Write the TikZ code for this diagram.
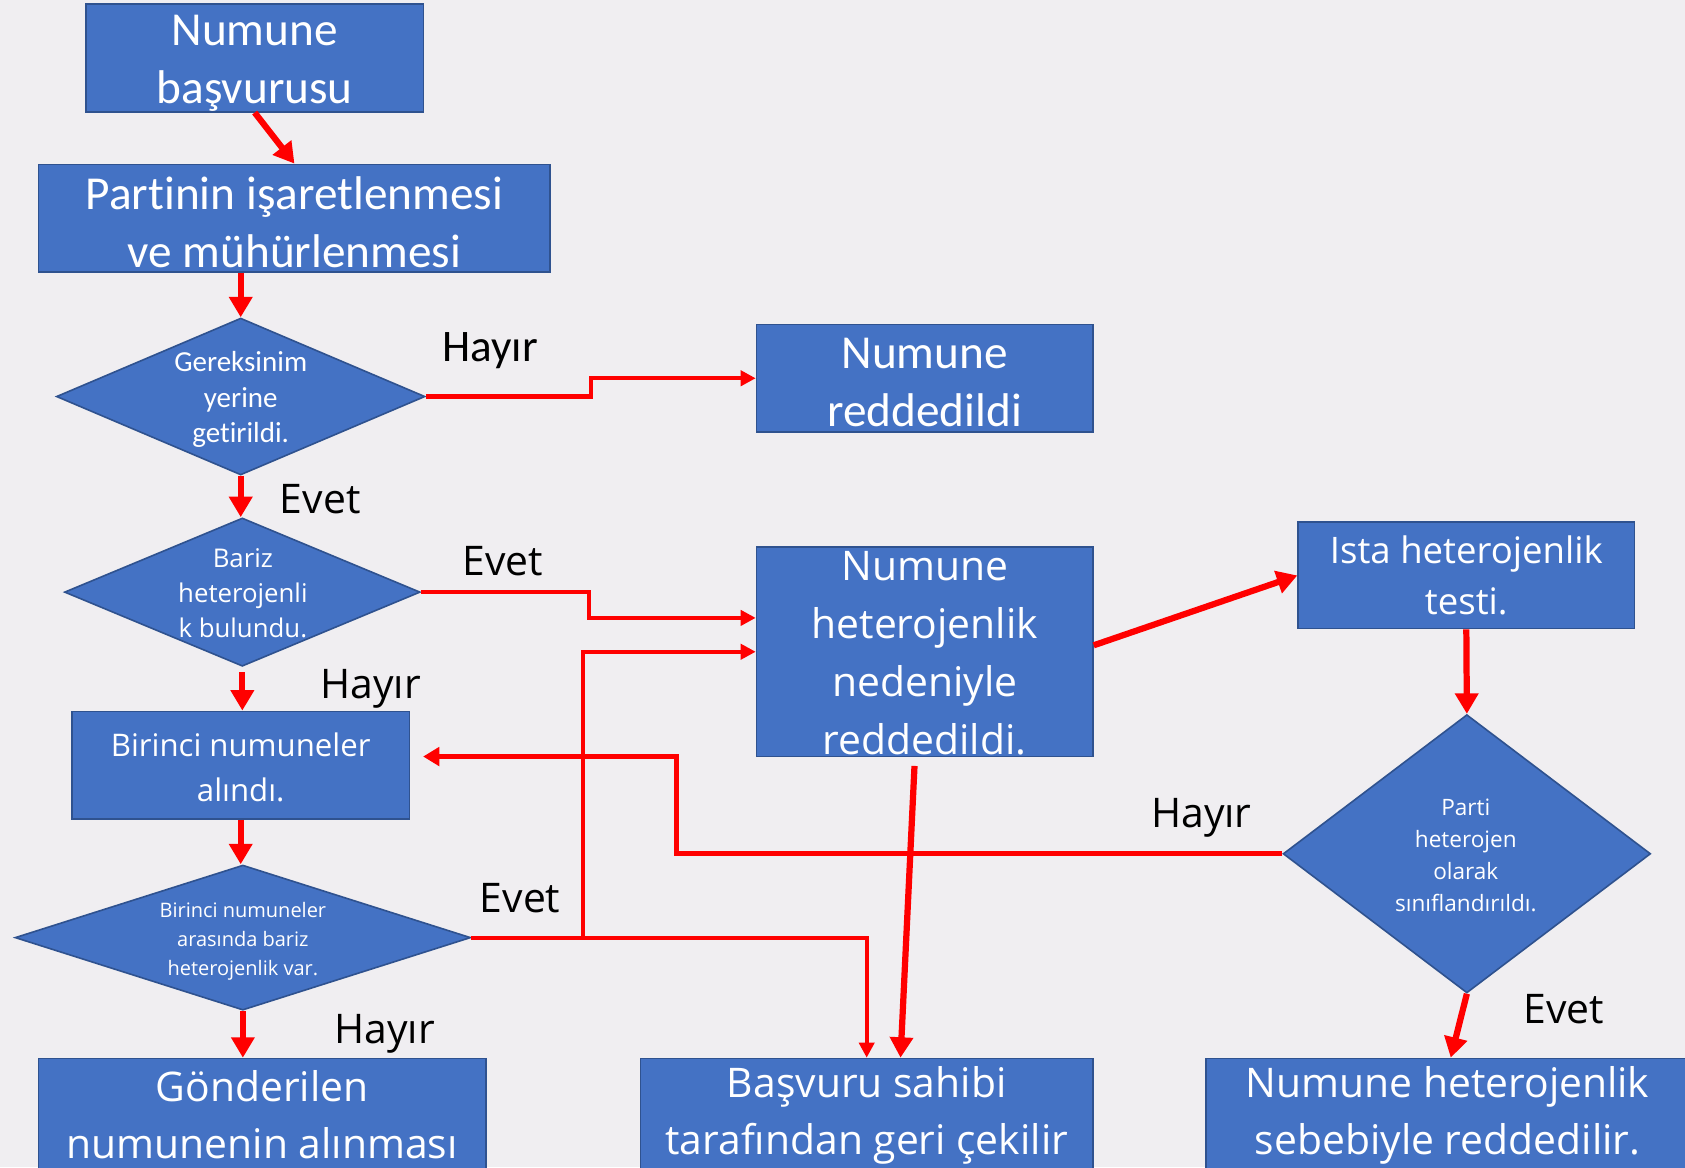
\documentclass[tikz,border=0pt]{standalone}
\usepackage{fontspec}
\setmainfont[Ligatures=NoCommon]{Open Sans}
\newfontfamily\carl[RawFeature={-liga;-clig;-calt;-dlig}]{Carlito}
\usetikzlibrary{shapes.geometric,arrows.meta,calc}
\definecolor{bgcol}{HTML}{F0EEF1}
\definecolor{boxblue}{HTML}{4472C4}
\definecolor{boxedge}{HTML}{2F528F}
\definecolor{arrred}{HTML}{FF0000}
\tikzset{
  box/.style={draw=boxedge, fill=boxblue, line width=0.75pt, inner sep=0pt, text=white, align=center},
  dia/.style={diamond, draw=boxedge, fill=boxblue, line width=0.75pt, inner sep=0pt},
  intext/.style={text=white, align=center, inner sep=0pt},
  lbl/.style={text=black, inner sep=0pt, font=\fontsize{19}{23}\selectfont},
  bigarrow/.style={draw=arrred, line width=2.9pt, -{Triangle[width=10.5pt,length=9.5pt]}},
  smallarrow/.style={draw=arrred, line width=1.9pt, -{Triangle[width=7pt,length=7pt]}},
  midarrow/.style={draw=arrred, line width=2.3pt, -{Triangle[width=8.5pt,length=7.5pt]}}
}
\begin{document}
\begin{tikzpicture}[x=0.5pt,y=-0.5pt]
\fill[bgcol] (0,0) rectangle (1568,1086);
\useasboundingbox (0,0) rectangle (1568,1086);

% boxes
\node[box, minimum width=157pt, minimum height=50pt] (b1) at (237,54) {};
\node[intext, font=\carl\fontsize{22}{27}\selectfont] (b1t) at (237,58.5) {Numune\\başvurusu};
\node[box, minimum width=238pt, minimum height=50pt] (b2) at (274,203) {};
\node[intext, font=\carl\fontsize{22}{27}\selectfont] (b2t) at (274,207) {Part\kern0pt inin işaretlenmesi\\ve mühürlenmesi};
\node[box, minimum width=156.5pt, minimum height=50pt] (b3) at (860.5,352) {};
\node[intext, font=\carl\fontsize{22}{27}\selectfont] (b3t) at (860.5,356) {Numune\\reddedildi};
\node[box, minimum width=157pt, minimum height=50pt] (b4) at (224,712) {};
\node[intext, font=\fontsize{14.5}{21}\selectfont] (b4t) at (224,714) {Birinci numuneler\\alındı.};
\node[box, minimum width=208pt, minimum height=52.5pt, font=\fontsize{19}{26.5}\selectfont] (b5) at (244,1037.5) {Gönderilen\\numunenin alınması};
\node[box, minimum width=156.5pt, minimum height=97.5pt] (b6) at (860.5,606.5) {};
\node[intext, font=\fontsize{19}{27}\selectfont] (b6t) at (860.5,608) {Numune\\heterojenlik\\nedeniyle\\reddedildi.};
\node[box, minimum width=156.5pt, minimum height=49.5pt, font=\fontsize{17}{23.5}\selectfont] (b7) at (1364.5,535.5) {Ista heterojenlik\\testi.};
\node[box, minimum width=210.5pt, minimum height=52.5pt, font=\fontsize{19}{26.5}\selectfont] (b9) at (806.5,1037.5) {Başvuru sahibi\\tarafından geri çekilir};
\node[box, minimum width=225pt, minimum height=52.5pt, font=\fontsize{19}{26.5}\selectfont] (b8) at (1347,1037.5) {Numune heterojenlik\\sebebiyle reddedilir.};

% diamonds
\node[dia, minimum width=171.5pt, minimum height=73pt] (d1) at (224,369) {};
\node[intext, font=\carl\fontsize{13.5}{16.5}\selectfont] (d1t) at (224,372) {Gereksinim\\yerine\\get\kern0pt irildi.};
\node[dia, minimum width=165.5pt, minimum height=69pt] (d2) at (225.5,551) {};
\node[intext, font=\fontsize{12}{16.5}\selectfont] (d2t) at (226,552) {Bariz\\heterojenli\\k bulundu.};
\node[dia, minimum width=212pt, minimum height=67.5pt] (d3) at (226,872.5) {};
\node[intext, font=\fontsize{9.3}{13.5}\selectfont] (d3t) at (226,875.5) {Birinci numuneler\\arasında bariz\\heterojenlik var.};
\node[dia, minimum width=171pt, minimum height=129.5pt] (d4) at (1365,794.5) {};
\node[intext, font=\fontsize{10.5}{15}\selectfont] (d4t) at (1364,796) {Parti\\heterojen\\olarak\\sınıflandırıldı.};

% labels
\node[lbl, font=\carl\fontsize{21}{25}\selectfont] (l1) at (456,326) {Hayır};
\node[lbl] (l2) at (298,464) {Evet};
\node[lbl] (l3) at (468,522) {Evet};
\node[lbl] (l4) at (345,641) {Hayır};
\node[lbl] (l5) at (484,836) {Evet};
\node[lbl] (l6) at (358,962) {Hayır};
\node[lbl] (l7) at (1118,761) {Hayır};
\node[lbl] (l8) at (1455,939) {Evet};

% connectors
\draw[bigarrow] (b1.south) -- (b2.north);
\draw[bigarrow] (b2.south -| d1.north) -- (d1.north);
\draw[smallarrow] (d1.east) -- ++(154,0) |- (b3.west);
\draw[bigarrow] (d1.south) -- (d1.south |- d2.north);
\draw[smallarrow] (d2.east) -- ++(156,0) |- ($(b6.west)+(0,-31.5)$);
\draw[bigarrow] ([yshift=-2.5pt]d2.south) -- (d2.south |- b4.north);
\draw[bigarrow] (b4.south) -- (b4.south |- d3.north);
\draw[bigarrow] (d3.south) -- (d3.south |- b5.north);
\path (d3.east) -- ++(104,0) coordinate (j);
\draw[smallarrow] (d3.east) -| (b9.north);
\draw[smallarrow] (j) |- (b6.west);
\draw[bigarrow] ([xshift=-4.75pt,yshift=-4pt]b6.south) -- ([xshift=15.75pt]b9.north);
\draw[bigarrow] ([yshift=3pt]b6.east) -- (b7.west);
\draw[bigarrow] (b7.south) -- (d4.north);
\draw[bigarrow] (d4.south) -- ([xshift=1.5pt]b8.north);
\draw[midarrow] (d4.west) -- ++(-564,0) |- ($(b4.east)+(12,-8)$);
\end{tikzpicture}
\end{document}
